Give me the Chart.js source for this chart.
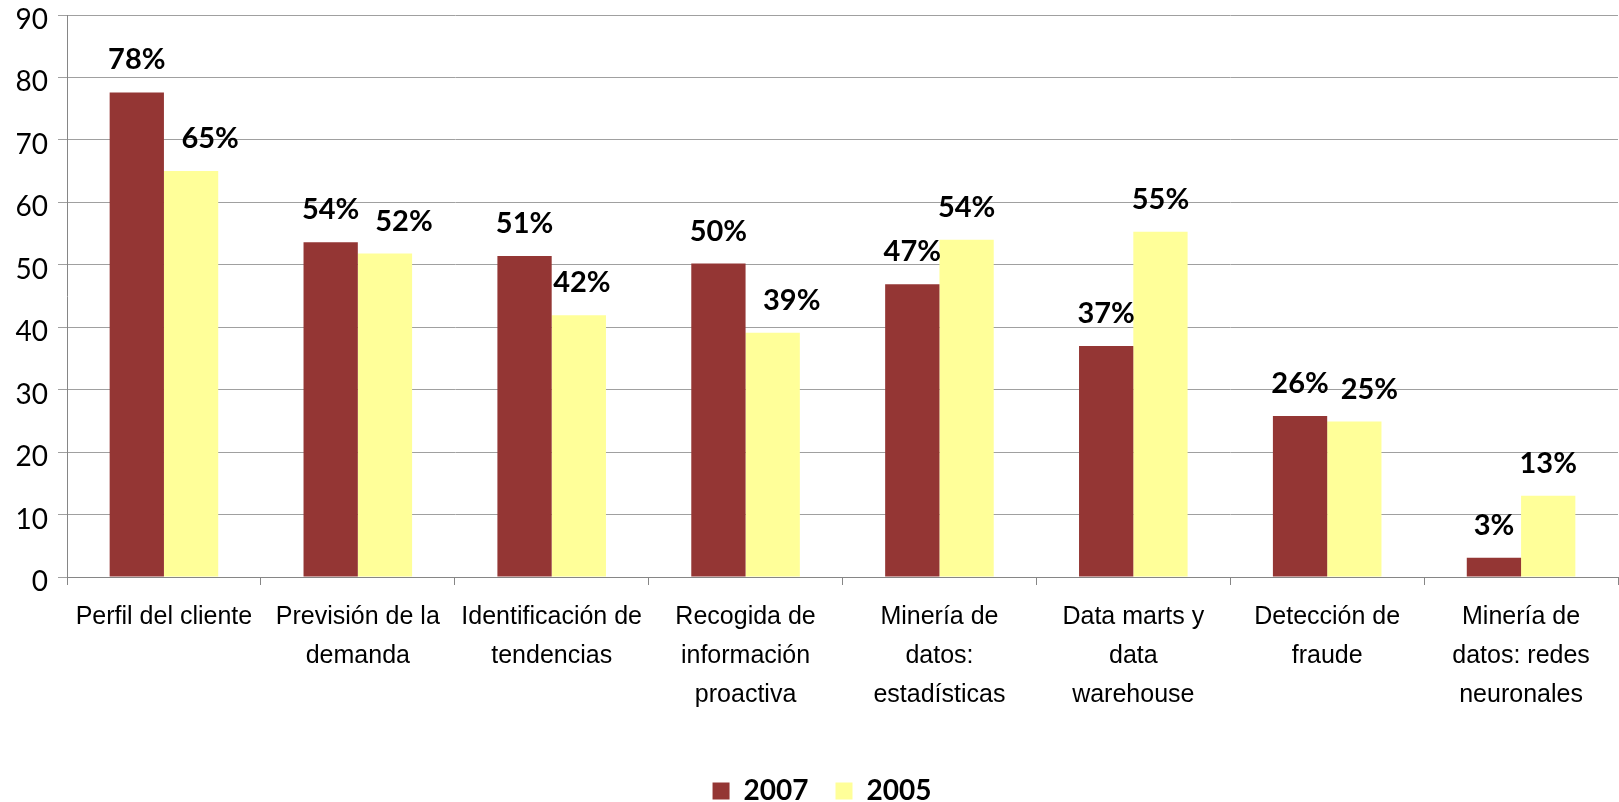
<!DOCTYPE html>
<html><head><meta charset="utf-8">
<script src="https://cdn.jsdelivr.net/npm/chart.js@4/dist/chart.umd.min.js"></script>
<style>html,body{margin:0;padding:0;background:#fff;overflow:hidden}</style>
</head><body>
<canvas id="c" width="1619" height="802" style="width:1619px;height:802px;display:block"></canvas>
<script>
const categories = [
  "Perfil del cliente",
  ["Previsión de la", "demanda"],
  ["Identificación de", "tendencias"],
  ["Recogida de", "información", "proactiva"],
  ["Minería de", "datos:", "estadísticas"],
  ["Data marts y", "data", "warehouse"],
  ["Detección de", "fraude"],
  ["Minería de", "datos: redes", "neuronales"]
];
const seriesNames = ["2007", "2005"];
const values2007 = [77.6, 53.6, 51.4, 50.2, 46.9, 37.0, 25.8, 3.1];
const values2005 = [65.0, 51.8, 41.9, 39.1, 54.0, 55.3, 24.9, 13.0];
const yMin = 0, yMax = 90, yStep = 10;

// horizontal nudges of the value labels (px), as placed in the original
const labelNudge = [
  [0, 0, 0, 0, 0, 0, 0, 0],
  [19, 19, 3, 19, 0, 0, 15, 0]
];

const labelPlugin = {
  id: 'valueLabels',
  afterDatasetsDraw(chart) {
    const ctx = chart.ctx;
    ctx.save();
    ctx.font = 'bold 29px Lato';
    ctx.fillStyle = '#000';
    ctx.textAlign = 'center';
    ctx.textBaseline = 'alphabetic';
    chart.data.datasets.forEach((ds, di) => {
      const meta = chart.getDatasetMeta(di);
      meta.data.forEach((bar, i) => {
        ctx.fillText(Math.round(ds.data[i]) + '%', bar.x + labelNudge[di][i], bar.y - 23);
      });
    });
    ctx.restore();
  }
};
const legendShift = {
  id: 'legendShift',
  afterLayout(chart) {
    const l = chart.legend;
    if (l) { l.top += 13; l.bottom += 13; l.left += 13; l.right += 13; }
  }
};

new Chart(document.getElementById('c'), {
  type: 'bar',
  data: {
    labels: categories,
    datasets: [
      { label: seriesNames[0], data: values2007, backgroundColor: '#943634' },
      { label: seriesNames[1], data: values2005, backgroundColor: '#FFFF99' }
    ]
  },
  options: {
    responsive: false,
    animation: false,
    devicePixelRatio: 1,
    layout: { padding: { top: 15, right: 1, left: 0, bottom: 0 } },
    datasets: { bar: { categoryPercentage: 0.56, barPercentage: 1.0 } },
    plugins: {
      tooltip: { enabled: false },
      legend: {
        position: 'bottom',
        labels: {
          boxWidth: 17, boxHeight: 17, padding: 27,
          color: '#000',
          font: { family: 'Lato', size: 28, weight: 'bold' }
        }
      }
    },
    scales: {
      x: {
        grid: { display: true, offset: true, drawOnChartArea: false, drawTicks: true, tickLength: 8, color: '#868686' },
        border: { display: true, color: '#868686' },
        ticks: {
          color: '#000', padding: 13, maxRotation: 0, minRotation: 0, autoSkip: false,
          font: { family: 'Liberation Sans', size: 25, lineHeight: 1.56 }
        },
        afterFit(scale) { scale.height = 160; }
      },
      y: {
        min: yMin, max: yMax,
        grid: { color: '#a0a0a0', tickLength: 9, drawTicks: true },
        border: { display: true, color: '#868686' },
        ticks: {
          stepSize: yStep, color: '#000', padding: 10, labelOffset: 5, autoSkip: false,
          font: { family: 'Lato', size: 28, lineHeight: 0.1 }
        },
        afterFit(scale) { scale.width = 67; }
      }
    }
  },
  plugins: [labelPlugin, legendShift]
});
</script>
</body></html>
